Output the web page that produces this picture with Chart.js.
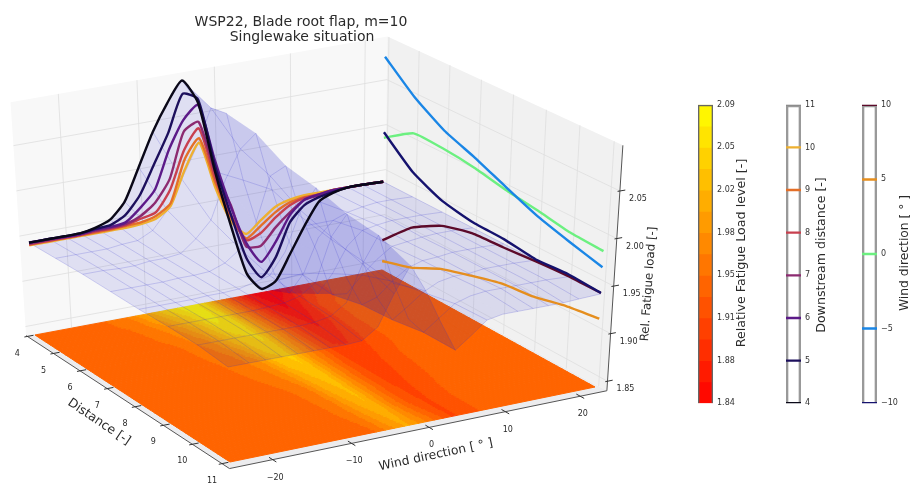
<!DOCTYPE html>
<html>
<head>
<meta charset="utf-8">
<title>WSP22, Blade root flap, m=10</title>
<script src="https://cdn.jsdelivr.net/npm/chart.js@4"></script>
<style>
  html, body { margin: 0; padding: 0; background: #fff; }
  #wrap { position: relative; width: 914px; height: 485px; overflow: hidden; filter: blur(0.45px); }
  canvas { position: absolute; }
</style>
</head>
<body>
<div id="wrap">
  <canvas id="main" width="914" height="485" style="left:0;top:0"></canvas>
  <canvas id="cbLoad" width="60" height="316" style="left:698px;top:96px"></canvas>
  <canvas id="cbDist" width="60" height="316" style="left:786px;top:96px"></canvas>
  <canvas id="cbWind" width="60" height="316" style="left:862px;top:96px"></canvas>
</div>
<script>
// --- data ---
const windGrid = [-25, -22.4, -20.4, -18.4, -16.4, -14.4, -12.4, -10.4, -8.4, -6.4, -4.4, -2.4, -0.4, 1.6, 3.6, 5.6, 7.6, 9.6, 11.6, 13.6, 15.6, 17.6, 19.6, 22.5];
const distances = [4, 5, 6, 7, 8, 9, 10, 11];

const load4 = [1.942, 1.942, 1.942, 1.942, 1.945, 1.951, 1.968, 2.003, 2.039, 2.068, 2.09, 2.062, 1.983, 1.919, 1.864, 1.844, 1.85, 1.877, 1.905, 1.929, 1.936, 1.939, 1.939, 1.938];
const load5 = [1.942, 1.942, 1.942, 1.942, 1.944, 1.945, 1.953, 1.972, 2.003, 2.035, 2.075, 2.066, 1.99, 1.932, 1.881, 1.857, 1.876, 1.912, 1.928, 1.934, 1.937, 1.939, 1.939, 1.938];
const load6 = [1.942, 1.942, 1.941, 1.941, 1.943, 1.943, 1.945, 1.958, 1.975, 2.016, 2.046, 2.06, 1.996, 1.941, 1.898, 1.874, 1.893, 1.92, 1.934, 1.937, 1.939, 1.939, 1.939, 1.938];
const load7 = [1.941, 1.941, 1.941, 1.941, 1.942, 1.942, 1.943, 1.949, 1.961, 1.984, 2.033, 2.041, 1.983, 1.943, 1.894, 1.892, 1.909, 1.923, 1.934, 1.936, 1.938, 1.939, 1.939, 1.938];
const load8 = [1.94, 1.94, 1.94, 1.94, 1.941, 1.941, 1.942, 1.946, 1.95, 1.972, 2.013, 2.034, 1.976, 1.932, 1.901, 1.906, 1.92, 1.931, 1.936, 1.937, 1.939, 1.939, 1.939, 1.938];
const load9 = [1.94, 1.94, 1.94, 1.94, 1.94, 1.94, 1.941, 1.942, 1.946, 1.957, 2.002, 2.023, 1.971, 1.929, 1.903, 1.914, 1.926, 1.934, 1.937, 1.937, 1.939, 1.939, 1.939, 1.938];
const load10 = [1.939, 1.939, 1.939, 1.939, 1.939, 1.939, 1.939, 1.94, 1.943, 1.954, 1.991, 2.018, 1.965, 1.925, 1.908, 1.92, 1.932, 1.937, 1.939, 1.939, 1.939, 1.939, 1.939, 1.938];
const load11 = [1.935, 1.935, 1.935, 1.935, 1.935, 1.935, 1.935, 1.935, 1.936, 1.947, 1.978, 2.004, 1.975, 1.94, 1.908, 1.92, 1.933, 1.936, 1.936, 1.936, 1.936, 1.936, 1.937, 1.938];
const loadRows = [load4, load5, load6, load7, load8, load9, load10, load11];

// load against distance, one list per wind direction
const windM10 = [1.993, 1.965, 1.95, 1.944, 1.943, 1.939, 1.941, 1.939];
const windM5 = [2.077, 2.048, 2.027, 2.014, 1.999, 1.985, 1.975, 1.966];
const wind0 = [1.987, 2.008, 2.007, 2.003, 1.996, 1.991, 1.985, 1.983];
const wind5 = [1.85, 1.86, 1.876, 1.886, 1.895, 1.899, 1.907, 1.912];
const wind10 = [1.873, 1.904, 1.923, 1.932, 1.934, 1.937, 1.939, 1.939];

const windTicks = [-20, -10, 0, 10, 20];
const distTicks = [4, 5, 6, 7, 8, 9, 10, 11];
const zTicks = [1.85, 1.9, 1.95, 2.0, 2.05];

const loadBarTicks = [1.84, 1.8757, 1.9114, 1.9471, 1.9829, 2.0186, 2.0543, 2.09];
const distBarTicks = [4, 5, 6, 7, 8, 9, 10, 11];
const windBarTicks = [-10, -5, 0, 5, 10];

const distColors = ['#0a0818', '#1c0f5c', '#5c1a88', '#8c2a70', '#c8404f', '#e46f28', '#eeb030', '#8c8c8c'];
const windColors = ['#15126e', '#1a86e6', '#6cf080', '#e58e1e', '#5c0a2a'];

const LEVELS = 14;
const Z_MIN = 1.84, Z_MAX = 2.09, Z_TOP = 2.098;

// --- 3d view: floor corners on screen, height scale at each corner ---
const WD_MIN = -25, WD_MAX = 22.5, D_MIN = 4, D_MAX = 11;
const A = [35, 335], D = [382, 270], C = [595, 387], B = [230, 462];

const dx1 = D[0] - C[0], dx2 = B[0] - C[0], sx = A[0] - D[0] + C[0] - B[0];
const dy1 = D[1] - C[1], dy2 = B[1] - C[1], sy = A[1] - D[1] + C[1] - B[1];
const den = dx1 * dy2 - dx2 * dy1;
const hg = (sx * dy2 - dx2 * sy) / den, hh = (dx1 * sy - sx * dy1) / den;
const ha = D[0] - A[0] + hg * D[0], hb = B[0] - A[0] + hh * B[0];
const hd = D[1] - A[1] + hg * D[1], he = B[1] - A[1] + hh * B[1];

function project(wd, dist, z) {
  const u = (wd - WD_MIN) / (WD_MAX - WD_MIN), v = (dist - D_MIN) / (D_MAX - D_MIN);
  const w = hg * u + hh * v + 1;
  const x0 = (ha * u + hb * v + A[0]) / w, y0 = (hd * u + he * v + A[1]) / w;
  const s = (905 * (1 - u) + 900 * u) * (1 - v) + (1000 * (1 - u) + 950 * u) * v;
  const lift = (z - Z_MIN) * s;
  return { x: x0 + (x0 - 320) * lift / 4400, y: y0 - lift };
}

function autumn(z) {
  let i = Math.floor((z - Z_MIN) / (Z_MAX - Z_MIN) * LEVELS);
  i = Math.max(0, Math.min(LEVELS - 1, i));
  return 'rgb(255,' + Math.round(255 * (i + 0.5) / LEVELS) + ',0)';
}

const layers = [];
function poly(points, fill, border, width, tension) {
  layers.push({
    data: points, fill: fill ? 'shape' : false, backgroundColor: fill || 'transparent',
    borderColor: border || 'transparent', borderWidth: width === undefined ? 1 : width,
    pointRadius: 0, tension: tension || 0, borderJoinStyle: 'round'
  });
}

// panes
const PW0 = -26, PW1 = 23, PD0 = 3.95, PD1 = 11.25;
poly([project(PW0, PD0, Z_MIN), project(PW1, PD0, Z_MIN), project(PW1, PD0, Z_TOP), project(PW0, PD0, Z_TOP), project(PW0, PD0, Z_MIN)], '#f8f8f8', 'transparent', 0);
poly([project(PW1, PD0, Z_MIN), project(PW1, PD1, Z_MIN), project(PW1, PD1, Z_TOP), project(PW1, PD0, Z_TOP), project(PW1, PD0, Z_MIN)], '#f1f1f1', 'transparent', 0);
poly([project(PW0, PD0, Z_MIN), project(PW1, PD0, Z_MIN), project(PW1, PD1, Z_MIN), project(PW0, PD1, Z_MIN), project(PW0, PD0, Z_MIN)], '#ececee', 'transparent', 0);

// grid on the panes
const GRID = 'rgba(222,222,222,0.8)';
windTicks.forEach(w => poly([project(w, PD0, Z_MIN), project(w, PD0, Z_TOP)], null, GRID));
distTicks.forEach(d => poly([project(PW1, d, Z_MIN), project(PW1, d, Z_TOP)], null, GRID));
zTicks.forEach(z => {
  poly([project(PW0, PD0, z), project(PW1, PD0, z), project(PW1, PD1, z)], null, GRID);
});

// axis lines and tick marks
const AXIS = '#555';
poly([project(PW0, PD0, Z_MIN), project(PW0, PD1, Z_MIN), project(PW1, PD1, Z_MIN), project(PW1, PD1, Z_TOP)], null, AXIS);
windTicks.forEach(w => poly([project(w - 0.6, PD1 - 0.12, Z_MIN), project(w - 0.6, PD1 + 0.12, Z_MIN)], null, '#333'));
distTicks.forEach(d => poly([project(PW0 - 0.4, d, Z_MIN), project(PW0 + 0.8, d, Z_MIN)], null, '#333'));
zTicks.forEach(z => poly([project(PW1 - 0.3, PD1, z), project(PW1 + 0.7, PD1, z)], null, '#333'));

// filled contour on the floor, built from the same rows as the surface
function sampleLoad(i, fi, j, fj) {
  const a = loadRows[i][j], b = loadRows[i][j + 1], c = loadRows[i + 1][j], e = loadRows[i + 1][j + 1];
  return (a * (1 - fj) + b * fj) * (1 - fi) + (c * (1 - fj) + e * fj) * fi;
}
const SUB = 12;
for (let i = 0; i < distances.length - 1; i++) {
  for (let s = 0; s < SUB; s++) {
    const d0 = distances[i] + s / SUB, d1 = distances[i] + (s + 1) / SUB;
    let runColor = null, runStart = WD_MIN;
    for (let j = 0; j < windGrid.length - 1; j++) {
      for (let t = 0; t < SUB; t++) {
        const step = windGrid[j + 1] - windGrid[j];
        const w0 = windGrid[j] + step * t / SUB;
        const col = autumn(sampleLoad(i, (s + 0.5) / SUB, j, (t + 0.5) / SUB));
        if (col !== runColor) {
          if (runColor) {
            poly([project(runStart, d0, Z_MIN), project(w0, d0, Z_MIN), project(w0, d1, Z_MIN), project(runStart, d1, Z_MIN), project(runStart, d0, Z_MIN)], runColor, runColor, 1);
          }
          runColor = col;
          runStart = w0;
        }
      }
    }
    poly([project(runStart, d0, Z_MIN), project(WD_MAX, d0, Z_MIN), project(WD_MAX, d1, Z_MIN), project(runStart, d1, Z_MIN), project(runStart, d0, Z_MIN)], runColor, runColor, 1);
  }
}

// translucent surface
const SURF_FILL = 'rgba(10,10,200,0.1)';
const SURF_LINE = 'rgba(50,50,205,0.2)';
for (let i = 0; i < distances.length - 1; i++) {
  for (let j = 0; j < windGrid.length - 1; j++) {
    poly([
      project(windGrid[j], distances[i], loadRows[i][j]),
      project(windGrid[j + 1], distances[i], loadRows[i][j + 1]),
      project(windGrid[j + 1], distances[i + 1], loadRows[i + 1][j + 1]),
      project(windGrid[j], distances[i + 1], loadRows[i + 1][j]),
      project(windGrid[j], distances[i], loadRows[i][j])
    ], SURF_FILL, 'transparent', 0);
  }
}
distances.forEach((d, i) => poly(windGrid.map((w, j) => project(w, d, loadRows[i][j])), null, SURF_LINE));
windGrid.forEach((w, j) => {
  if (j > 7 && j < 19 && j % 2 === 1) return; // mesh is sparser over the wake
  poly(distances.map((d, i) => project(w, d, loadRows[i][j])), null, SURF_LINE);
});

// section lines on the back wall, one per distance
for (let i = distances.length - 2; i >= 0; i--) {
  poly(windGrid.map((w, j) => project(w, D_MIN, loadRows[i][j])), null, distColors[i], 2.4, 0.2);
}
// section lines on the right wall, one per wind direction
[wind10, wind5, wind0, windM5, windM10].forEach((row, k) => {
  poly(distances.map((d, i) => project(WD_MAX, d, row[i])), null, windColors[4 - k], 2.4, 0.15);
});

// --- all the text of the 3d part and the colour bar titles ---
const FONT = '"DejaVu Sans"';
const TEXT = '#2a2a2a';
const textItems = [
  { t: 'WSP22, Blade root flap, m=10', x: 301, y: 22, size: 14, rot: 0 },
  { t: 'Singlewake situation', x: 302, y: 37, size: 14, rot: 0 },
  { t: 'Distance [-]', x: 99, y: 422, size: 12.5, rot: 34 },
  { t: 'Wind direction [ ° ]', x: 436, y: 455, size: 12.3, rot: -12 },
  { t: 'Rel. Fatigue load [-]', x: 649, y: 284, size: 11.8, rot: -86 },
  { t: 'Relative Fatigue Load level [-]', x: 742, y: 253, size: 12.7, rot: -90 },
  { t: 'Downstream distance [-]', x: 822, y: 255, size: 12.6, rot: -90 },
  { t: 'Wind direction [ ° ]', x: 905, y: 253, size: 12.3, rot: -90 }
];
function fmtNum(v) { return String(v).replace('-', '\u2212'); }
const tickItems = [];
windTicks.forEach((w, i) => {
  const p = project(w - 0.6, PD1, Z_MIN);
  tickItems.push({ t: fmtNum(w), x: p.x + 2.5, y: p.y + 18 });
});
distTicks.forEach(d => {
  const p = project(PW0, d, Z_MIN);
  tickItems.push({ t: String(d), x: p.x - 10, y: p.y + 17 });
});
zTicks.forEach(z => {
  const p = project(PW1, PD1, z);
  tickItems.push({ t: z.toFixed(2), x: p.x + 18, y: p.y + 8 });
});

const textPlugin = {
  id: 'sceneText',
  afterDraw(chart) {
    const ctx = chart.ctx;
    ctx.save();
    ctx.textAlign = 'center';
    ctx.textBaseline = 'middle';
    ctx.fillStyle = TEXT;
    textItems.forEach(it => {
      ctx.save();
      ctx.translate(it.x, it.y);
      ctx.rotate(it.rot * Math.PI / 180);
      ctx.font = it.size + 'px ' + FONT;
      ctx.fillText(it.t, 0, 0);
      ctx.restore();
    });
    ctx.font = '8px ' + FONT;
    tickItems.forEach(it => ctx.fillText(it.t, it.x, it.y));
    ctx.restore();
  }
};

Chart.defaults.animation = false;
Chart.defaults.responsive = false;
Chart.defaults.devicePixelRatio = 1;
Chart.defaults.events = [];

new Chart(document.getElementById('main'), {
  type: 'line',
  data: { datasets: layers.slice().reverse() },
  options: {
    layout: { padding: 0 },
    plugins: { legend: { display: false }, tooltip: { enabled: false } },
    scales: {
      x: { type: 'linear', min: 0, max: 914, display: false },
      y: { type: 'linear', min: 0, max: 485, reverse: true, display: false }
    }
  },
  plugins: [textPlugin]
});

// --- colour bars ---
function colorBar(id, barWidth, yMin, yMax, tickValues, fmt, datasets) {
  new Chart(document.getElementById(id), {
    type: 'bar',
    data: { labels: [''], datasets: datasets },
    options: {
      layout: { padding: { top: 3, bottom: 3 } },
      plugins: { legend: { display: false }, tooltip: { enabled: false } },
      datasets: { bar: { grouped: false, barPercentage: 1, categoryPercentage: 1 } },
      scales: {
        x: { display: false },
        y: {
          position: 'right', min: yMin, max: yMax,
          grid: { display: false, drawTicks: false }, border: { display: false },
          afterFit: s => { s.width = 60 - barWidth; },
          afterBuildTicks: s => { s.ticks = tickValues.map(v => ({ value: v })); },
          ticks: { autoSkip: false, padding: 4, color: '#333', font: { family: FONT, size: 8 }, callback: fmt }
        }
      }
    }
  });
}

const bandStep = (Z_MAX - Z_MIN) / LEVELS;
const bands = [];
for (let i = LEVELS - 1; i >= 0; i--) {
  const lo = Z_MIN + i * bandStep;
  bands.push({ data: [[lo, lo + bandStep]], backgroundColor: autumn(lo + bandStep / 2), borderWidth: 0 });
}
bands.unshift({ data: [[Z_MIN, Z_MAX]], backgroundColor: 'transparent', borderColor: '#666', borderWidth: 1 });
colorBar('cbLoad', 15, Z_MIN, Z_MAX, loadBarTicks, v => v.toFixed(2), bands);

const FRAME = '#999';
const distBars = distBarTicks.map((d, i) => ({ data: [[d - 0.02, d + 0.02]], backgroundColor: distColors[i], borderWidth: 0 }));
distBars.push({ data: [[4, 11]], backgroundColor: 'transparent', borderColor: FRAME, borderWidth: 2 });
colorBar('cbDist', 15, 4, 11, distBarTicks, v => String(v), distBars);

const windBars = windBarTicks.map((w, i) => ({ data: [[w - 0.06, w + 0.06]], backgroundColor: windColors[i], borderWidth: 0 }));
windBars.push({ data: [[-10, 10]], backgroundColor: 'transparent', borderColor: FRAME, borderWidth: 2 });
colorBar('cbWind', 15, -10, 10, windBarTicks, fmtNum, windBars);
</script>
</body>
</html>
